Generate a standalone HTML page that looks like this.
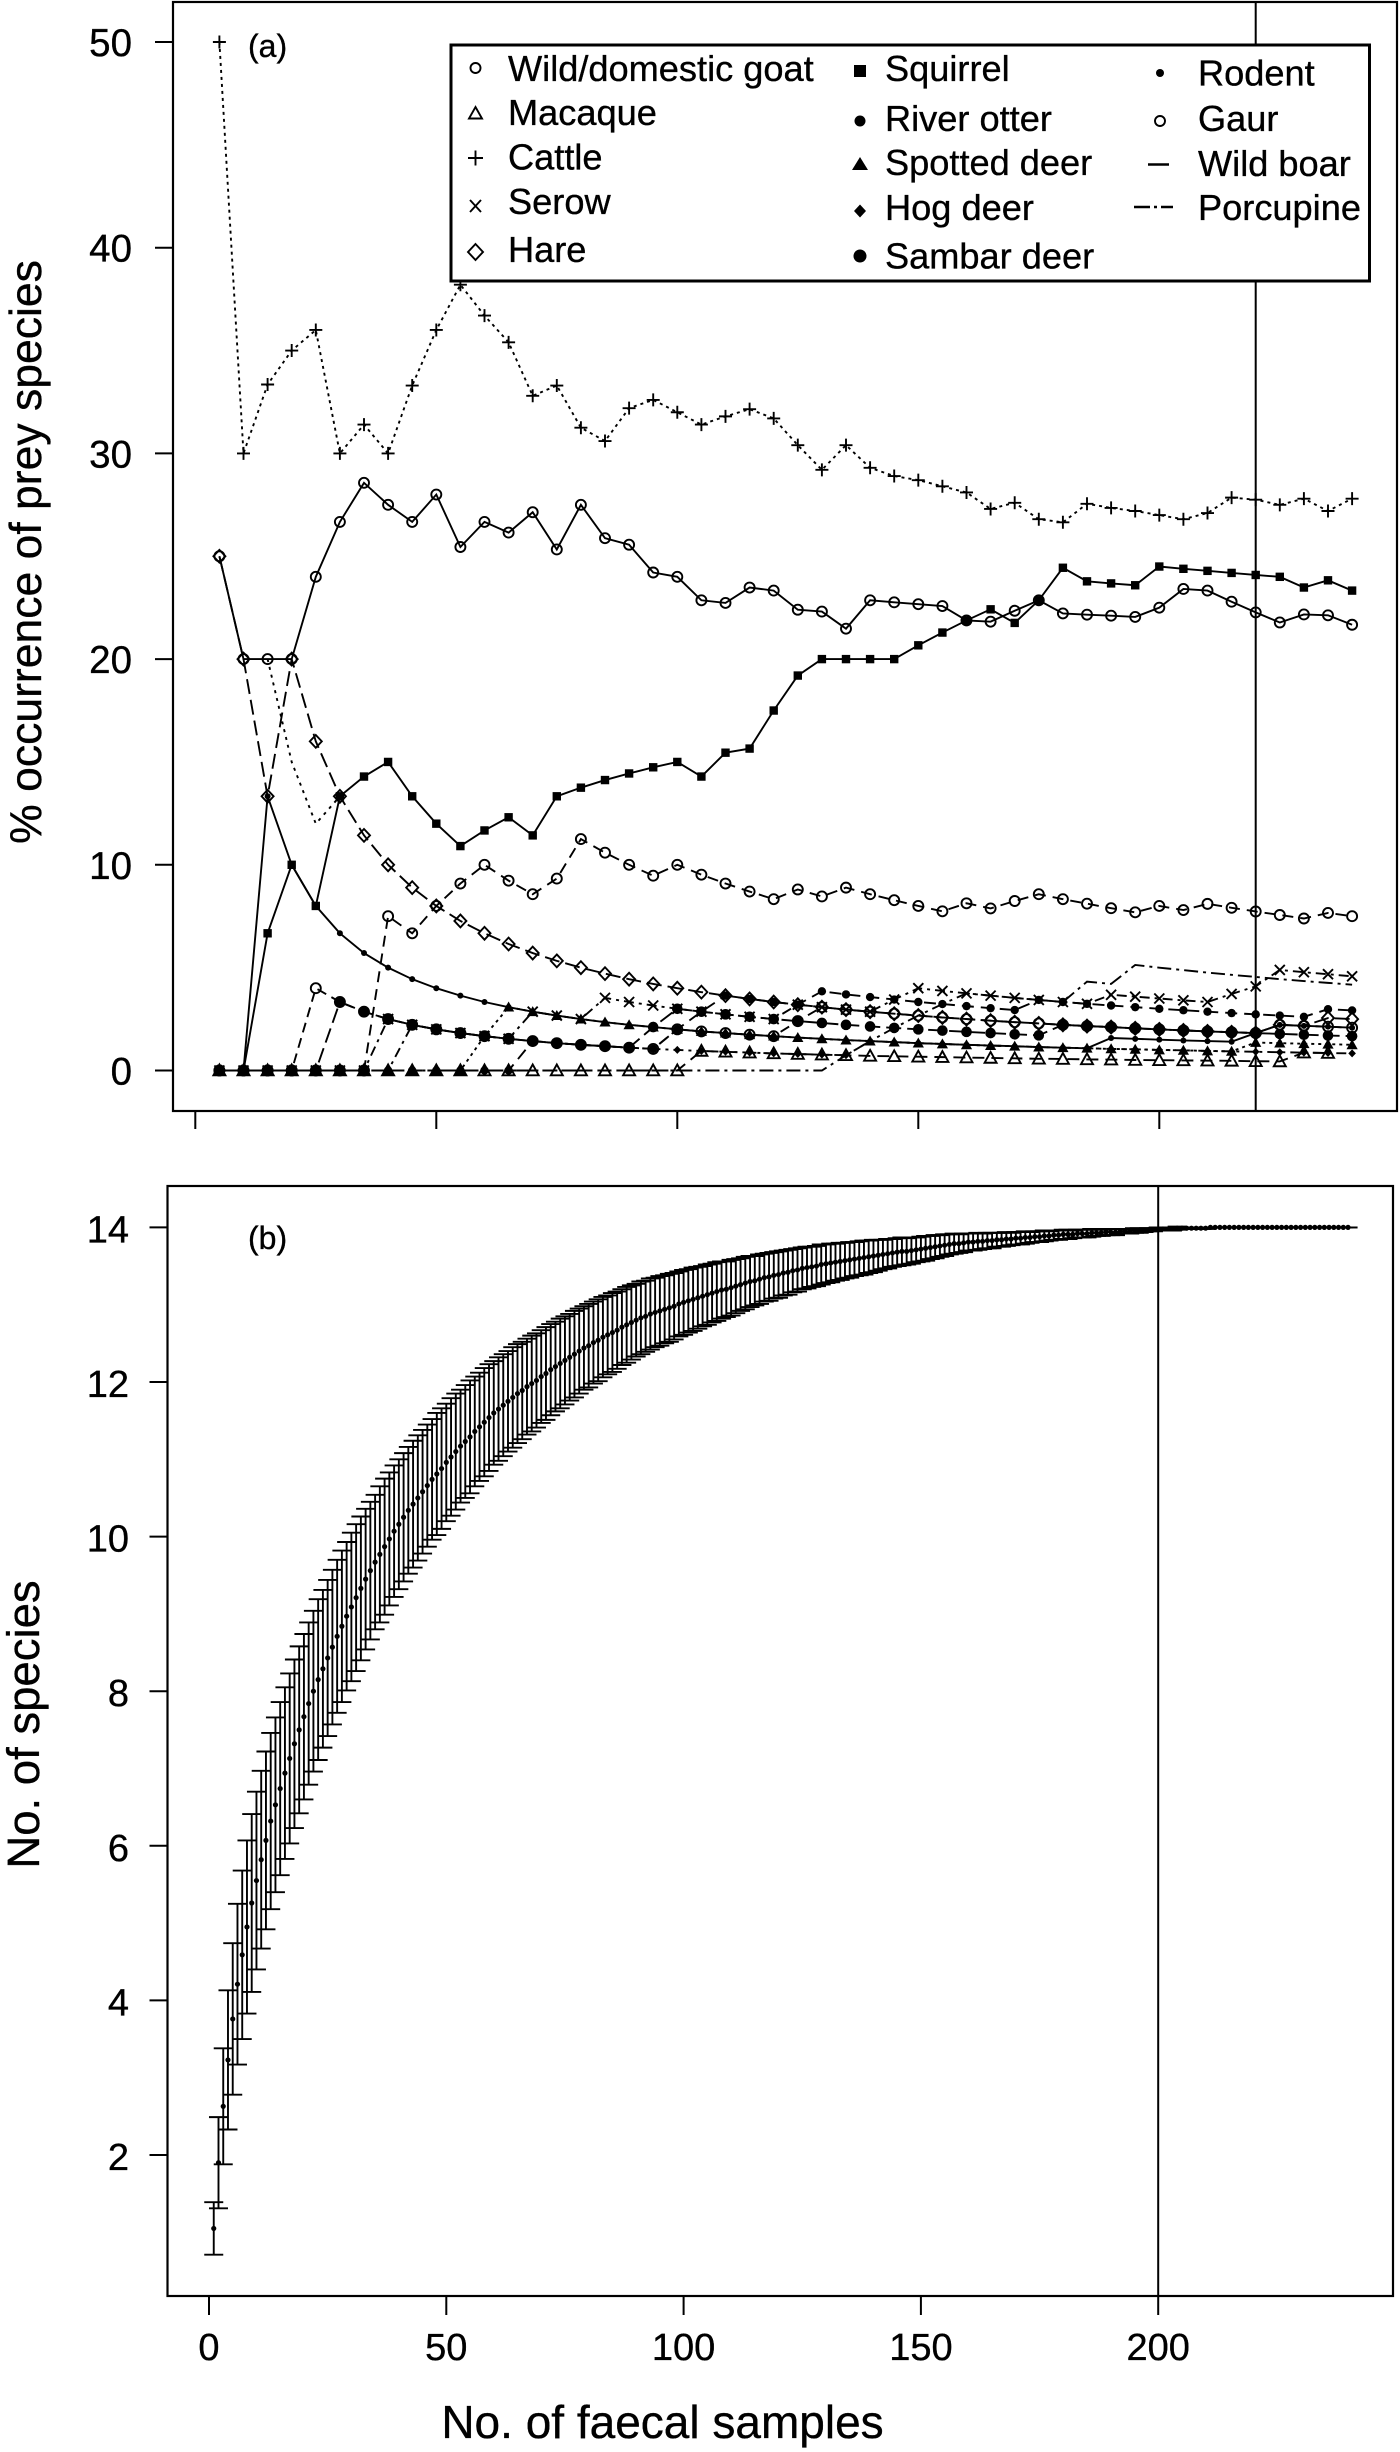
<!DOCTYPE html>
<html lang="en">
<head>
<meta charset="utf-8">
<title>Prey species occurrence and species accumulation</title>
<style>
html,body{margin:0;padding:0;background:#fff;}
svg{display:block;}
text{font-family:"Liberation Sans",Arial,sans-serif;fill:#000;stroke:#000;stroke-width:0.35px;}
</style>
</head>
<body>
<svg id="figure" xmlns="http://www.w3.org/2000/svg" width="1400" height="2452" viewBox="0 0 1400 2452">
  <rect x="0" y="0" width="1400" height="2452" fill="#fff"/>
  <g id="panel-a"></g>
  <g id="panel-b"></g>
  <rect x="173" y="2" width="1224" height="1109" fill="none" stroke="#000" stroke-width="2.2"/>
  <rect x="167.5" y="1186" width="1225.5" height="1110" fill="none" stroke="#000" stroke-width="2.2"/>
  <text x="248" y="57" font-size="32">(a)</text>
  <text x="248" y="1249" font-size="32">(b)</text>
  <text transform="translate(41 552) rotate(-90)" text-anchor="middle" font-size="44.5">% occurrence of prey species</text>
  <text transform="translate(39 1724.5) rotate(-90)" text-anchor="middle" font-size="45.5">No. of species</text>
  <text x="662.5" y="2438" text-anchor="middle" font-size="46">No. of faecal samples</text>

  <g id="legend">
    <rect x="451" y="45" width="918.5" height="236" fill="#fff" stroke="#000" stroke-width="3"/>
    <g font-size="36.2">
      <g><circle cx="475.5" cy="68" r="5" fill="none" stroke="#000" stroke-width="1.9"/><text x="508" y="81">Wild/domestic goat</text></g>
      <g><path d="M475.5 107 L482 118.5 L469 118.5 Z" fill="none" stroke="#000" stroke-width="1.9"/><text x="508" y="125">Macaque</text></g>
      <g><path d="M468 158 H483 M475.5 150.5 V165.5" fill="none" stroke="#000" stroke-width="1.9"/><text x="508" y="169.5">Cattle</text></g>
      <g><path d="M470 200 L481 212 M481 200 L470 212" fill="none" stroke="#000" stroke-width="1.9"/><text x="508" y="214">Serow</text></g>
      <g><path d="M475.5 244 L483 252 L475.5 260 L468 252 Z" fill="none" stroke="#000" stroke-width="1.9"/><text x="508" y="262">Hare</text></g>
      <g><rect x="854" y="65" width="12" height="12" fill="#000"/><text x="885" y="81">Squirrel</text></g>
      <g><circle cx="860" cy="121" r="5.5" fill="#000"/><text x="885" y="131">River otter</text></g>
      <g><path d="M860 157 L868 170 L852 170 Z" fill="#000"/><text x="885" y="175">Spotted deer</text></g>
      <g><path d="M860 204.500 L866 211 L860 217.500 L854 211 Z" fill="#000"/><text x="885" y="220">Hog deer</text></g>
      <g><circle cx="860" cy="256" r="6.5" fill="#000"/><text x="885" y="268.500">Sambar deer</text></g>
      <g><circle cx="1160" cy="73" r="4" fill="#000"/><text x="1198" y="85.500">Rodent</text></g>
      <g><circle cx="1160" cy="121" r="5" fill="none" stroke="#000" stroke-width="1.9"/><text x="1198" y="131">Gaur</text></g>
      <g><line x1="1148" y1="164.500" x2="1169" y2="164.500" stroke="#000" stroke-width="2.4"/><text x="1198" y="176">Wild boar</text></g>
      <g><path d="M1134 207 H1150 M1154 207 H1157 M1161 207 H1173" fill="none" stroke="#000" stroke-width="2.4"/><text x="1198" y="220">Porcupine</text></g>
    </g>
  </g>
</svg>
<script>
// ---------- Panel (a) data: % occurrence against number of faecal samples ----------
const sampleSizes = [5,10,15,20,25,30,35,40,45,50,55,60,65,70,75,80,85,90,95,100,105,110,115,120,125,130,135,140,145,150,155,160,165,170,175,180,185,190,195,200,205,210,215,220,225,230,235,240];
const goat = [25,20,20,20,24,26.67,28.57,27.5,26.67,28,25.45,26.67,26.15,27.14,25.33,27.5,25.88,25.56,24.21,24,22.86,22.73,23.48,23.33,22.4,22.31,21.48,22.86,22.76,22.67,22.58,21.88,21.82,22.35,22.86,22.22,22.16,22.11,22.05,22.5,23.41,23.33,22.79,22.27,21.78,22.17,22.13,21.67];
const macaque = [0,0,0,0,0,0,0,0,0,0,0,0,0,0,0,0,0,0,0,0,.95,.91,.87,.83,.8,.77,.74,.71,.69,.67,.65,.63,.61,.59,.57,.56,.54,.53,.51,.5,.49,.48,.47,.45,.44,.87,.85,null];
const cattle = [50,30,33.35,35,36,30,31.4,30,33.3,36,38.2,36.7,35.4,32.8,33.3,31.25,30.6,32.2,32.6,32,31.4,31.8,32.15,31.7,30.4,29.2,30.4,29.3,28.9,28.7,28.4,28.1,27.3,27.6,26.8,26.65,27.55,27.35,27.2,27,26.8,27.1,27.85,27.75,27.5,27.8,27.2,27.8];
const serow = [0,0,0,0,0,0,0,2.5,2.22,2,1.82,1.67,1.54,2.86,2.67,2.5,3.53,3.33,3.16,3,2.86,2.73,2.61,2.5,3.2,3.08,2.96,2.86,3.45,4,3.87,3.75,3.64,3.53,3.43,3.33,3.24,3.68,3.59,3.5,3.41,3.33,3.72,4.09,4.89,4.78,4.68,4.58];
const hare = [25,20,13.33,20,16,13.33,11.43,10,8.89,8,7.27,6.67,6.15,5.71,5.33,5,4.71,4.44,4.21,4,3.81,3.64,3.48,3.33,3.2,3.08,2.96,2.86,2.76,2.67,2.58,2.5,2.42,2.35,2.29,2.22,2.16,2.11,2.05,2,1.95,1.9,1.86,1.82,2.22,2.17,2.55,2.5];
const squirrel = [0,0,6.67,10,8,13.33,14.29,15,13.33,12,10.91,11.67,12.31,11.43,13.33,13.75,14.12,14.44,14.74,15,14.29,15.45,15.65,17.5,19.2,20,20,20,20,20.67,21.29,21.88,22.42,21.76,22.86,24.44,23.78,23.68,23.59,24.5,24.39,24.29,24.19,24.09,24,23.48,23.83,23.33];
const riverOtter = [0,0,0,0,0,0,0,0,0,0,0,0,0,1.43,1.33,1.25,1.18,1.11,1.05,2,2.86,3.64,3.48,3.33,3.2,3.85,3.7,3.57,3.45,3.33,3.23,3.13,3.03,2.94,3.43,3.33,3.24,3.16,3.08,3,2.93,2.86,2.79,2.73,2.67,2.61,2.98,2.92];
const spottedDeer = [0,0,0,0,0,0,0,0,0,0,0,1.67,3.08,2.86,2.67,2.5,2.35,2.22,2.11,2,1.9,1.82,1.74,1.67,1.6,1.54,1.48,1.43,1.38,1.33,1.29,1.25,1.21,1.18,1.14,1.11,1.08,1.05,1.03,1,.98,.95,.93,1.36,1.33,1.3,1.28,1.25];
const hogDeer = [0,0,0,0,0,0,0,0,2.22,2,1.82,1.67,1.54,1.43,1.33,1.25,1.18,1.11,1.05,1,.95,.91,.87,.83,.8,.77,.74,1.43,1.38,1.33,1.29,1.25,1.21,1.18,1.14,1.11,1.08,1.05,1.03,1,.98,.95,.93,.91,.89,.87,.85,.83];
const sambarDeer = [0,0,0,0,0,3.33,2.86,2.5,2.22,2,1.82,1.67,1.54,1.43,1.33,1.25,1.18,1.11,2.11,3,2.86,2.73,2.61,2.5,2.4,2.31,2.22,2.14,2.07,2,1.94,1.88,1.82,1.76,1.71,2.22,2.16,2.11,2.05,2,1.95,1.9,1.86,1.82,1.78,1.74,1.7,1.67];
const rodent = [0,0,13.33,10,8,6.67,5.71,5,4.44,4,3.64,3.33,3.08,2.86,2.67,2.5,2.35,2.22,2.11,2,1.9,1.82,1.74,1.67,1.6,1.54,1.48,1.43,1.38,1.33,1.29,1.25,1.21,1.18,1.14,1.11,1.08,1.58,1.54,1.5,1.46,1.43,1.4,1.82,2.22,2.17,2.13,2.08];
const gaur = [0,0,0,0,0,0,0,7.5,6.67,8,9.09,10,9.23,8.57,9.33,11.25,10.59,10,9.47,10,9.52,9.09,8.7,8.33,8.8,8.46,8.89,8.57,8.28,8,7.74,8.13,7.88,8.24,8.57,8.33,8.11,7.89,7.69,8,7.8,8.1,7.91,7.73,7.56,7.39,7.66,7.5];
const lowCircle = [0,0,0,0,4,3.33,2.86,2.5,2.22,2,1.82,1.67,1.54,1.43,1.33,1.25,1.18,1.11,1.05,2,1.9,1.82,1.74,1.67,2.4,3.08,2.96,2.86,2.76,2.67,2.58,2.5,2.42,2.35,2.29,2.22,2.16,2.11,2.05,2,1.95,1.9,1.86,1.82,2.22,2.17,2.13,2.08];
const wildBoar = [null,null,20,15,12,13.33,null,null,null,null,null,null,null,null,null,null,null,null,null,null,null,null,null,null,null,null,null,null,null,null,null,null,null,null,null,null,null,null,null,null,null,null,null,null,null,null,null,null];
const porcupine = [0,0,0,0,0,0,0,0,0,0,0,0,0,0,0,0,0,0,0,0,0,0,0,0,0,0,.74,1.43,2.07,2.67,3.23,3.75,3.64,3.53,3.43,3.33,4.32,4.21,5.13,5,4.88,4.76,4.65,4.55,4.44,4.35,4.26,4.17];
const yTicksA = [0,10,20,30,40,50];
const xTicks = [0,50,100,150,200];
const markerLineA = [220];

// ---------- Panel (b) data: species accumulation mean and error half-width ----------
const richnessMean = [1.05,1.90,2.63,3.23,3.76,4.21,4.59,4.95,5.26,5.55,5.82,6.07,6.32,6.53,6.74,6.94,7.13,7.32,7.50,7.67,7.84,8.00,8.15,8.29,8.43,8.57,8.71,8.84,8.97,9.09,9.21,9.33,9.45,9.56,9.67,9.77,9.87,9.97,10.07,10.16,10.25,10.34,10.42,10.50,10.58,10.66,10.74,10.81,10.88,10.96,11.03,11.10,11.17,11.23,11.29,11.36,11.42,11.48,11.54,11.60,11.65,11.70,11.75,11.80,11.85,11.89,11.94,11.98,12.02,12.07,12.11,12.16,12.20,12.24,12.28,12.32,12.36,12.40,12.44,12.47,12.51,12.54,12.58,12.61,12.64,12.67,12.71,12.74,12.77,12.80,12.83,12.85,12.88,12.90,12.92,12.94,12.96,12.98,13.01,13.03,13.05,13.07,13.09,13.11,13.13,13.15,13.17,13.19,13.20,13.22,13.24,13.26,13.28,13.30,13.31,13.33,13.35,13.36,13.38,13.39,13.41,13.42,13.44,13.45,13.47,13.48,13.49,13.50,13.52,13.53,13.54,13.55,13.56,13.57,13.58,13.59,13.60,13.61,13.62,13.63,13.64,13.65,13.66,13.67,13.68,13.69,13.69,13.70,13.71,13.72,13.73,13.74,13.75,13.76,13.77,13.78,13.79,13.79,13.80,13.81,13.81,13.82,13.82,13.83,13.83,13.84,13.84,13.85,13.85,13.86,13.86,13.87,13.87,13.88,13.88,13.89,13.89,13.90,13.90,13.91,13.91,13.91,13.92,13.92,13.92,13.93,13.93,13.93,13.94,13.94,13.94,13.95,13.95,13.95,13.96,13.96,13.96,13.97,13.97,13.98,13.98,13.98,13.98,13.99,13.99,13.99,13.99,13.99,13.99,13.99,14,14,14,14,14,14,14,14,14,14,14,14,14,14,14,14,14,14,14,14,14,14,14,14,14,14,14,14,14,14];
const richnessError = [.34,.59,.75,.90,.98,1.04,1.09,1.12,1.15,1.15,1.15,1.15,1.14,1.13,1.12,1.11,1.10,1.09,1.08,1.07,1.05,1.04,1.04,1.02,1.01,1.00,.99,.98,.96,.96,.95,.93,.91,.89,.87,.88,.88,.86,.85,.84,.83,.82,.82,.81,.80,.79,.78,.79,.78,.76,.76,.75,.73,.73,.73,.71,.70,.70,.69,.67,.67,.66,.65,.65,.64,.63,.62,.62,.61,.60,.60,.59,.58,.58,.57,.56,.56,.55,.54,.54,.53,.53,.52,.51,.51,.50,.49,.49,.48,.47,.47,.46,.46,.45,.45,.44,.44,.43,.42,.42,.41,.41,.40,.39,.39,.38,.38,.37,.36,.36,.35,.34,.34,.33,.32,.32,.31,.31,.30,.30,.29,.29,.28,.28,.27,.27,.26,.26,.26,.25,.25,.24,.24,.23,.23,.22,.22,.22,.21,.21,.20,.19,.19,.18,.18,.18,.17,.17,.16,.16,.16,.15,.15,.14,.14,.13,.13,.12,.12,.11,.11,.11,.10,.10,.10,.09,.09,.09,.08,.08,.08,.08,.07,.07,.07,.07,.06,.06,.06,.06,.06,.05,.05,.05,.05,.05,.04,.04,.04,.04,.04,.03,.03,.03,.03,.03,.02,.02,.02,.02,.02,.02,.02,.02,.01,.01,.01,.01,.01,.01,0,0,0,0,0,0,0,0,0,0,0,0,0,0,0,0,0,0,0,0,0,0,0,0,0,0,0,0,0,0];
const yTicksB = [2,4,6,8,10,12,14];
const markerLineB = [200];

// ---------- Axis functions ----------
const xA = v => 195.3 + v * 4.82;
const yA = v => 1070.5 - v * 20.57;
const xB = v => 209 + v * 4.746;
const yB = v => 1227.4 + (14 - v) * 77.3;

const NS = 'http://www.w3.org/2000/svg';
function make(parent, tag, attrs, name) {
  const el = document.createElementNS(NS, tag);
  for (const k in attrs) el.setAttribute(k, attrs[k]);
  
  
  parent.appendChild(el);
  return el;
}

const STROKE = {fill: 'none', stroke: '#000', 'stroke-width': 1.9};
const SOLID = {fill: '#000', stroke: 'none'};
function drawMarker(g, kind, x, y, name) {
  if (kind === 'circle') return make(g, 'circle', {cx: x, cy: y, r: 5, ...STROKE}, name);
  if (kind === 'disc') return make(g, 'circle', {cx: x, cy: y, r: 4.2, ...SOLID}, name);
  if (kind === 'bigDisc') return make(g, 'circle', {cx: x, cy: y, r: 5.3, ...SOLID}, name);
  if (kind === 'dot') return make(g, 'circle', {cx: x, cy: y, r: 3, ...SOLID}, name);
  if (kind === 'square') return make(g, 'rect', {x: x - 4.2, y: y - 4.2, width: 8.4, height: 8.4, ...SOLID}, name);
  if (kind === 'triangle') return make(g, 'path', {d: `M${x} ${y-6}L${x+6} ${y+4.8}L${x-6} ${y+4.8}Z`, ...STROKE}, name);
  if (kind === 'triFill') return make(g, 'path', {d: `M${x} ${y-5.6}L${x+5.6} ${y+4.4}L${x-5.6} ${y+4.4}Z`, ...SOLID}, name);
  if (kind === 'diamond') return make(g, 'path', {d: `M${x} ${y-6.4}L${x+6} ${y}L${x} ${y+6.4}L${x-6} ${y}Z`, ...STROKE}, name);
  if (kind === 'diamondFill') return make(g, 'path', {d: `M${x} ${y-4}L${x+3.8} ${y}L${x} ${y+4}L${x-3.8} ${y}Z`, ...SOLID}, name);
  if (kind === 'plus') return make(g, 'path', {d: `M${x-6.5} ${y}H${x+6.5}M${x} ${y-6.5}V${y+6.5}`, ...STROKE}, name);
  if (kind === 'cross') return make(g, 'path', {d: `M${x-5} ${y-5}L${x+5} ${y+5}M${x+5} ${y-5}L${x-5} ${y+5}`, ...STROKE}, name);
}

const panelA = document.getElementById('panel-a');
const panelB = document.getElementById('panel-b');

// Panel (a) axes
yTicksA.forEach(t => {
  make(panelA, 'line', {x1: 155, x2: 173, y1: yA(t), y2: yA(t), stroke: '#000', 'stroke-width': 2}, 'y-tick-a');
  const lab = make(panelA, 'text', {x: 132, y: yA(t) + 14, 'text-anchor': 'end', 'font-size': 38.5}, 'y-tick-label-a');
  lab.textContent = t;
});
xTicks.forEach(t => {
  make(panelA, 'line', {x1: xA(t), x2: xA(t), y1: 1111, y2: 1129, stroke: '#000', 'stroke-width': 2}, 'x-tick-a');
});
markerLineA.forEach(v => {
  make(panelA, 'line', {x1: xA(v), x2: xA(v), y1: 2, y2: 1111, stroke: '#000', 'stroke-width': 2}, 'reference-line-a');
});

// Panel (a) series
const seriesDefs = [
  {name: 'goat', values: goat, marker: 'circle', dash: ''},
  {name: 'macaque', values: macaque, marker: 'triangle', dash: '12 7'},
  {name: 'cattle', values: cattle, marker: 'plus', dash: '3 4'},
  {name: 'serow', values: serow, marker: 'cross', dash: '10 5 3 5'},
  {name: 'hare', values: hare, marker: 'diamond', dash: '15 6'},
  {name: 'squirrel', values: squirrel, marker: 'square', dash: ''},
  {name: 'river-otter', values: riverOtter, marker: 'disc', dash: '12 7'},
  {name: 'spotted-deer', values: spottedDeer, marker: 'triFill', dash: '3 4'},
  {name: 'hog-deer', values: hogDeer, marker: 'diamondFill', dash: '10 5 3 5'},
  {name: 'sambar-deer', values: sambarDeer, marker: 'bigDisc', dash: '15 6'},
  {name: 'rodent', values: rodent, marker: 'dot', dash: ''},
  {name: 'gaur', values: gaur, marker: 'circle', dash: '11 7'},
  {name: 'low-circle', values: lowCircle, marker: 'circle', dash: '10 6'},
  {name: 'wild-boar', values: wildBoar, marker: null, dash: '3 5'},
  {name: 'porcupine', values: porcupine, marker: null, dash: '14 5 3 5'}
];
seriesDefs.forEach(s => {
  const g = make(panelA, 'g', {}, 'series-' + s.name);
  let d = '';
  let pen = false;
  s.values.forEach((v, i) => {
    if (v === null) { pen = false; return; }
    d += (pen ? 'L' : 'M') + xA(sampleSizes[i]).toFixed(2) + ' ' + yA(v).toFixed(2);
    pen = true;
  });
  const attrs = {d: d, fill: 'none', stroke: '#000', 'stroke-width': 1.9};
  if (s.dash) attrs['stroke-dasharray'] = s.dash;
  make(g, 'path', attrs, s.name + '-line');
  if (s.marker) {
    s.values.forEach((v, i) => {
      if (v === null) return;
      drawMarker(g, s.marker, xA(sampleSizes[i]), yA(v), s.name + '-marker');
    });
  }
});

// Panel (b) axes
yTicksB.forEach(t => {
  make(panelB, 'line', {x1: 149.5, x2: 167.5, y1: yB(t), y2: yB(t), stroke: '#000', 'stroke-width': 2}, 'y-tick-b');
  const lab = make(panelB, 'text', {x: 129, y: yB(t) + 15, 'text-anchor': 'end', 'font-size': 38}, 'y-tick-label-b');
  lab.textContent = t;
});
xTicks.forEach(t => {
  make(panelB, 'line', {x1: xB(t), x2: xB(t), y1: 2296, y2: 2315, stroke: '#000', 'stroke-width': 2}, 'x-tick-b');
  const lab = make(panelB, 'text', {x: xB(t), y: 2360, 'text-anchor': 'middle', 'font-size': 38}, 'x-tick-label');
  lab.textContent = t;
});
markerLineB.forEach(v => {
  make(panelB, 'line', {x1: xB(v), x2: xB(v), y1: 1186, y2: 2296, stroke: '#000', 'stroke-width': 2}, 'reference-line-b');
});

// Panel (b) error bars and means
const barsGroup = make(panelB, 'g', {stroke: '#000', 'stroke-width': 1.9, fill: 'none'}, 'error-bars');
const meansGroup = make(panelB, 'g', {fill: '#000'}, 'mean-points');
richnessMean.forEach((m, i) => {
  const n = i + 1;
  const e = richnessError[i];
  const x = xB(n);
  make(barsGroup, 'line', {x1: x, x2: x, y1: yB(m + e), y2: yB(m - e)}, 'error-bar-stem');
  make(barsGroup, 'line', {x1: x - 9.5, x2: x + 9.5, y1: yB(m + e), y2: yB(m + e)}, 'error-bar-upper-cap');
  make(barsGroup, 'line', {x1: x - 9.5, x2: x + 9.5, y1: yB(m - e), y2: yB(m - e)}, 'error-bar-lower-cap');
});
richnessMean.forEach((m, i) => {
  make(meansGroup, 'circle', {cx: xB(i + 1), cy: yB(m), r: 2.6}, 'mean-point');
});
</script>
</body>
</html>
